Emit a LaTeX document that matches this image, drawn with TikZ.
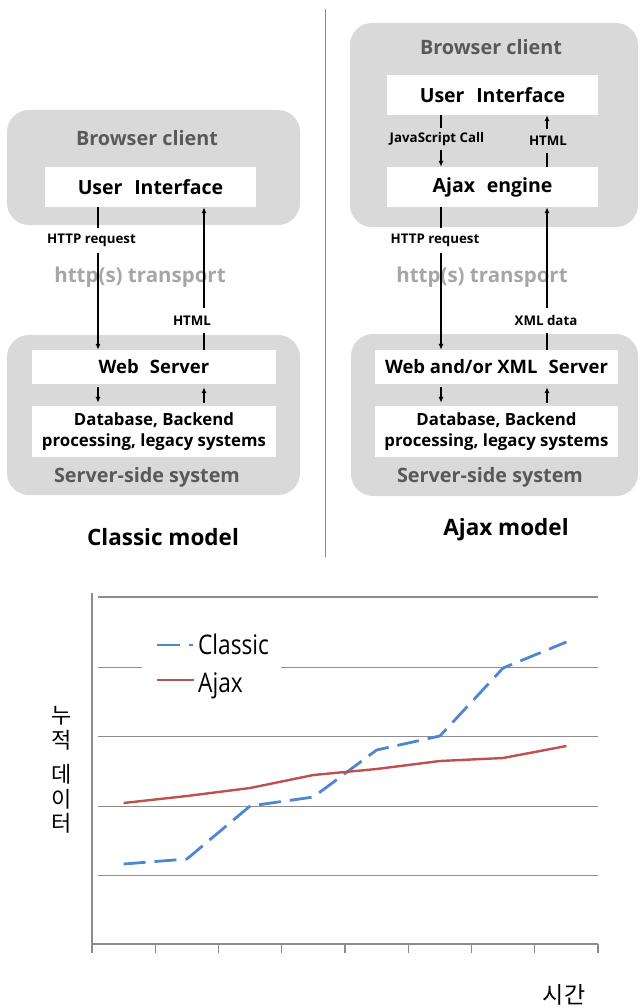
\documentclass[tikz,border=0pt]{standalone}
\usepackage{fontspec}
\setmainfont{Open Sans}
\newfontfamily\kr{Noto Sans CJK KR}
\usetikzlibrary{arrows.meta}
\definecolor{boxgray}{HTML}{D9D9D9}
\definecolor{titlegray}{HTML}{595959}
\definecolor{transgray}{HTML}{A6A6A6}
\definecolor{gridgray}{HTML}{8C8C8C}
\definecolor{cblue}{HTML}{4F86D0}
\definecolor{ared}{HTML}{C0504D}
\begin{document}
\begin{tikzpicture}[x=1pt,y=-1pt,
  container/.style={fill=boxgray, rounded corners=22pt, draw=none, inner sep=0pt},
  whitebox/.style={fill=white, draw=none, inner sep=0pt, font=\bfseries\fontsize{19.5}{21}\selectfont},
  wsbox/.style={fill=white, draw=none, inner sep=0pt, font=\bfseries\fontsize{18.5}{20}\selectfont},
  dbbox/.style={fill=white, draw=none, inner sep=0pt, align=center, font=\bfseries\fontsize{16.8}{21}\selectfont},
  gtitle/.style={text=titlegray, inner sep=0pt, font=\bfseries\fontsize{19.8}{22}\selectfont},
  trans/.style={text=transgray, inner sep=0pt, font=\bfseries\fontsize{20.5}{22}\selectfont},
  small/.style={inner sep=0pt, font=\bfseries\fontsize{13.3}{15}\selectfont},
  model/.style={inner sep=0pt, font=\bfseries\fontsize{22.5}{24}\selectfont},
  conn/.style={line width=1.6pt, black},
  tip/.style={-{Latex[length=6pt,width=5pt]}},
  grid/.style={gridgray, line width=1.2pt},
  axisline/.style={gridgray, line width=1.4pt},
  legtext/.style={inner sep=0pt, anchor=west, xscale=0.84, font=\fontsize{27}{29}\selectfont},
]
\useasboundingbox (0,0) rectangle (641,1008);

% ---------------- Classic model ----------------
\node[container, minimum width=293pt, minimum height=115pt] (lbc) at (153.5,167.5) {};
\node[gtitle] (lbct) at (147,138) {Browser client};
\node[whitebox, minimum width=211pt, minimum height=40pt] (lui) at (150.5,187) {User\hspace{0.6em}Interface};
\node[container, minimum width=293pt, minimum height=160pt] (lss) at (153.5,415) {};
\node[wsbox, minimum width=244pt, minimum height=34pt] (lws) at (154,367) {Web\hspace{0.6em}Server};
\node[dbbox, minimum width=244pt, minimum height=51pt] (ldb) at (154,431.5) {Database, Backend\\processing, legacy systems};
\node[gtitle] (lsst) at (147,477) {Server-side system};
\node[trans] (ltr) at (140,277) {http(s) transport};
\node[small, minimum height=25pt] (lhr) at (91.5,240.5) {HTTP request};
\node[small, minimum height=25pt] (lhtml) at (192,320.5) {HTML};
\node[model] (lmodel) at (163,537) {Classic model};

\coordinate (xl1) at (98,0);
\coordinate (xl2) at (204,0);
\draw[conn] (lui.south -| xl1) -- (lhr.north -| xl1);
\draw[conn,tip] (lhr.south -| xl1) -- (lws.north -| xl1);
\draw[conn] (lws.north -| xl2) -- (lhtml.south -| xl2);
\draw[conn,tip] (lhtml.north -| xl2) -- (lui.south -| xl2);
\draw[conn,tip,shorten <=3pt,shorten >=3pt] (lws.south -| xl1) -- (ldb.north -| xl1);
\draw[conn,tip,shorten <=3pt,shorten >=3pt] (ldb.north -| xl2) -- (lws.south -| xl2);

% divider
\coordinate (dtop) at (325,9);
\coordinate (dbot) at (325,557);
\draw[gridgray, line width=1pt] (dtop) -- (dbot);

% ---------------- Ajax model ----------------
\node[container, minimum width=288pt, minimum height=204pt] (rbc) at (494,125) {};
\node[gtitle] (rbct) at (491,47) {Browser client};
\node[whitebox, minimum width=211pt, minimum height=40pt] (rui) at (492.5,95) {User\hspace{0.6em}Interface};
\node[whitebox, minimum width=211pt, minimum height=40pt] (rae) at (492.5,187) {Ajax\hspace{0.6em}engine};
\node[container, minimum width=287pt, minimum height=162pt] (rss) at (494.5,415) {};
\node[wsbox, minimum width=243pt, minimum height=34pt] (rws) at (496.5,367) {Web and/or XML\hspace{0.6em}Server};
\node[dbbox, minimum width=243pt, minimum height=51pt] (rdb) at (496.5,431.5) {Database, Backend\\processing, legacy systems};
\node[gtitle] (rsst) at (490,477) {Server-side system};
\node[trans] (rtr) at (482,277) {http(s) transport};
\node[small, minimum height=22pt] (rjs) at (437,139) {JavaScript Call};
\node[small, minimum height=23pt] (rhtml) at (548,141) {HTML};
\node[small, minimum height=25pt] (rhr) at (435,240.5) {HTTP request};
\node[small, minimum height=25pt] (rxml) at (546,320.5) {XML data};
\node[model] (rmodel) at (506,530) {Ajax model};

\coordinate (xr1) at (441,0);
\coordinate (xr2) at (547,0);
\draw[conn] (rui.south -| xr1) -- (rjs.north -| xr1);
\draw[conn,tip] (rjs.south -| xr1) -- (rae.north -| xr1);
\draw[conn] (rae.north -| xr2) -- (rhtml.south -| xr2);
\draw[conn,tip] (rhtml.north -| xr2) -- (rui.south -| xr2);
\draw[conn] (rae.south -| xr1) -- (rhr.north -| xr1);
\draw[conn,tip] (rhr.south -| xr1) -- (rws.north -| xr1);
\draw[conn] (rws.north -| xr2) -- (rxml.south -| xr2);
\draw[conn,tip] (rxml.north -| xr2) -- (rae.south -| xr2);
\draw[conn,tip,shorten <=3pt,shorten >=3pt] (rws.south -| xr1) -- (rdb.north -| xr1);
\draw[conn,tip,shorten <=3pt,shorten >=3pt] (rdb.north -| xr2) -- (rws.south -| xr2);

% ---------------- Chart ----------------
\foreach \y in {597,667.5,736.5,806.5,875.5} \draw[grid] (98,\y) -- (598,\y);
\draw[axisline] (92,593) -- (92,944) -- (598,944);
\foreach \i in {0,...,8} \draw[axisline] (92+\i*63.25,944) -- ++(0,9);

\fill[white] (142,616) rectangle (281,708);

\draw[cblue, line width=2.8pt, dash pattern=on 22pt off 9pt, line join=round]
  (123.6,864) -- (186.9,859) -- (250.1,806) -- (313.4,797) -- (376.6,750) -- (439.9,736) -- (503.1,668) -- (566.4,642);
\draw[ared, line width=2.4pt, line join=round]
  (123.6,803) -- (186.9,796) -- (250.1,788) -- (313.4,775) -- (376.6,769) -- (439.9,761) -- (503.1,758) -- (566.4,746);

\coordinate (lg1a) at (157,645);
\coordinate (lg1b) at (193,645);
\draw[cblue, line width=2.8pt, dash pattern=on 23pt off 9pt] (lg1a) -- (lg1b);
\coordinate (lg2a) at (157,680);
\coordinate (lg2b) at (194,680);
\draw[ared, line width=2.4pt] (lg2a) -- (lg2b);
\node[legtext] (lgc) at (198,644) {Classic};
\node[legtext] (lga) at (198,686) {Ajax};

\node[inner sep=0pt, align=center, font=\kr\fontsize{22}{24.5}\selectfont] (ylab) at (62,770) {누\\적\\[10pt]데\\이\\터};
\node[inner sep=0pt, font=\kr\fontsize{23}{25}\selectfont] (xlab) at (564,995) {시간};
\end{tikzpicture}
\end{document}
